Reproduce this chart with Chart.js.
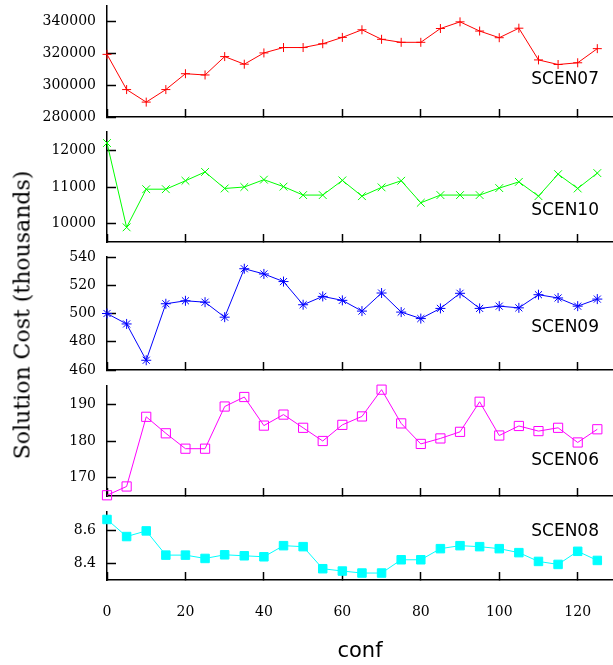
<!DOCTYPE html>
<html>
<head>
<meta charset="utf-8">
<script src="https://cdn.jsdelivr.net/npm/chart.js@4.4.1/dist/chart.umd.min.js"></script>
<style>
  body { margin: 0; background: #fff; }
  #wrap { position: relative; width: 613px; height: 665px; overflow: hidden; }
  #wrap canvas { position: absolute; left: 0; }
  #ytitle {
    position: absolute; left: 22px; top: 315px;
    transform: translate(-50%, -50%) rotate(-90deg);
    font: 22px "DejaVu Serif"; white-space: nowrap; color: #000;
  }
</style>
</head>
<body>
<div id="wrap">
  <canvas id="c1"></canvas>
  <canvas id="c2"></canvas>
  <canvas id="c3"></canvas>
  <canvas id="c4"></canvas>
  <canvas id="c5"></canvas>
  <div id="ytitle">Solution Cost (thousands)</div>
</div>
<script>
// x values (conf) shared by every panel
const confs = [0, 5, 10, 15, 20, 25, 30, 35, 40, 45, 50, 55, 60, 65, 70, 75, 80, 85, 90, 95, 100, 105, 110, 115, 120, 125];
const xTicks = [0, 20, 40, 60, 80, 100, 120];

const scen07 = [319500, 297300, 289400, 297300, 307300, 306500, 318100, 313300, 320400, 323800, 323800, 326200,
                330200, 335000, 329000, 327100, 327100, 335800, 340000, 334200, 330000, 336000, 316000, 313100, 314200, 323100];
const scen10 = [12200, 9900, 10940, 10940, 11170, 11410, 10960, 11000, 11200, 11010, 10780, 10780,
                11180, 10750, 10990, 11170, 10570, 10780, 10780, 10780, 10970, 11140, 10750, 11350, 10960, 11380];
const scen09 = [500, 492.6, 466.9, 506.9, 509, 508, 497.4, 531.7, 528, 522.6, 506.2, 512.1,
                509.3, 501.7, 514.5, 501, 496.4, 503.6, 514.3, 503.6, 505.2, 504, 513.3, 511, 505.2, 510.2];
const scen06 = [165.2, 167.6, 186.6, 182.1, 177.9, 177.9, 189.4, 192, 184.2, 187.2, 183.6, 180,
                184.4, 186.7, 194, 184.8, 179.2, 180.7, 182.5, 190.7, 181.5, 184.1, 182.7, 183.6, 179.6, 183.2];
const scen08 = [8.665, 8.562, 8.596, 8.45, 8.45, 8.43, 8.452, 8.446, 8.44, 8.507, 8.501, 8.368,
                8.354, 8.342, 8.342, 8.422, 8.422, 8.489, 8.507, 8.501, 8.489, 8.465, 8.412, 8.394, 8.473, 8.418];

const ticks07 = [280000, 300000, 320000, 340000];
const ticks10 = [10000, 11000, 12000];
const ticks09 = [460, 480, 500, 520, 540];
const ticks06 = [170, 180, 190];
const ticks08 = [8.4, 8.6];

// text label drawn inside each panel, lower right
const panelLabel = {
  id: 'panelLabel',
  afterDatasetsDraw(chart, args, opts) {
    const { ctx, chartArea } = chart;
    ctx.save();
    ctx.font = '17px "DejaVu Sans"';
    ctx.fillStyle = '#000';
    ctx.textAlign = 'right';
    ctx.textBaseline = 'alphabetic';
    ctx.fillText(opts.text, chartArea.right - 14, chartArea.top + opts.dy);
    ctx.restore();
  }
};

const panels = [
  { id: 'c1', name: 'SCEN07', values: scen07, ticks: ticks07, min: 280000, max: 350000, color: '#ff0000',
    style: 'cross', radius: 4.5, filled: false, top: 0, h: 125, padTop: 6, xh: 8, dy: 78 },
  { id: 'c2', name: 'SCEN10', values: scen10, ticks: ticks10, min: 9500, max: 12500, color: '#00ff00',
    style: 'crossRot', radius: 5.5, filled: false, top: 125, h: 125, padTop: 7, xh: 8, dy: 83 },
  { id: 'c3', name: 'SCEN09', values: scen09, ticks: ticks09, min: 460, max: 540, color: '#0000ff',
    style: 'star', radius: 5, filled: false, top: 250, h: 128, padTop: 7, xh: 8, dy: 75 },
  { id: 'c4', name: 'SCEN06', values: scen06, ticks: ticks06, min: 165, max: 195, color: '#ff00ff',
    style: 'rect', radius: 6.5, filled: false, top: 378, h: 127, padTop: 8, xh: 9, dy: 79 },
  { id: 'c5', name: 'SCEN08', values: scen08, ticks: ticks08, min: 8.3, max: 8.71, color: '#00ffff',
    style: 'rect', radius: 6, filled: true, top: 505, h: 160, padTop: 7, xh: 85, dy: 24, last: true }
];

function makePanel(p) {
  const canvas = document.getElementById(p.id);
  canvas.width = 613;
  canvas.height = p.h;
  canvas.style.top = p.top + 'px';

  return new Chart(canvas, {
    type: 'line',
    data: {
      datasets: [{
        label: p.name,
        data: confs.map((c, i) => ({ x: c, y: p.values[i] })),
        borderColor: p.color,
        backgroundColor: p.filled ? p.color : 'rgba(0,0,0,0)',
        pointBorderColor: p.color,
        pointBackgroundColor: p.filled ? p.color : 'rgba(0,0,0,0)',
        pointStyle: p.style,
        pointRadius: p.radius,
        pointBorderWidth: 1,
        borderWidth: 1,
        tension: 0,
        clip: false
      }]
    },
    options: {
      responsive: false,
      animation: false,
      devicePixelRatio: 1,
      layout: { autoPadding: false, padding: { top: p.padTop, left: 0, right: 0, bottom: 0 } },
      plugins: {
        legend: { display: false },
        tooltip: { enabled: false },
        panelLabel: { text: p.name, dy: p.dy }
      },
      scales: {
        x: {
          type: 'linear', min: 0, max: 129,
          afterBuildTicks: ax => { ax.ticks = xTicks.map(v => ({ value: v })); },
          afterFit: ax => { ax.height = p.xh; ax.paddingLeft = 0; ax.paddingRight = 0; },
          grid: { drawOnChartArea: false, tickLength: -8, tickColor: '#000', tickWidth: 1.5 },
          border: { color: '#000', width: 1.5 },
          ticks: {
            display: !!p.last, color: '#000', padding: 32, maxRotation: 0,
            font: { family: 'DejaVu Serif', size: 14 }
          },
          title: {
            display: !!p.last, text: 'conf', color: '#000',
            font: { family: 'DejaVu Sans', size: 21 }, padding: { top: 0, bottom: 1 }
          }
        },
        y: {
          min: p.min, max: p.max,
          afterBuildTicks: ax => { ax.ticks = p.ticks.map(v => ({ value: v })); },
          afterFit: ax => { ax.width = 107; ax.paddingTop = 0; ax.paddingBottom = 0; },
          grid: { drawOnChartArea: false, tickLength: -9, tickColor: '#000', tickWidth: 1.5 },
          border: { color: '#000', width: 1.5 },
          ticks: {
            color: '#000', padding: 20,
            font: { family: 'DejaVu Serif', size: 14 },
            callback: v => String(v)
          }
        }
      }
    },
    plugins: [panelLabel]
  });
}

panels.forEach(makePanel);
</script>
</body>
</html>
